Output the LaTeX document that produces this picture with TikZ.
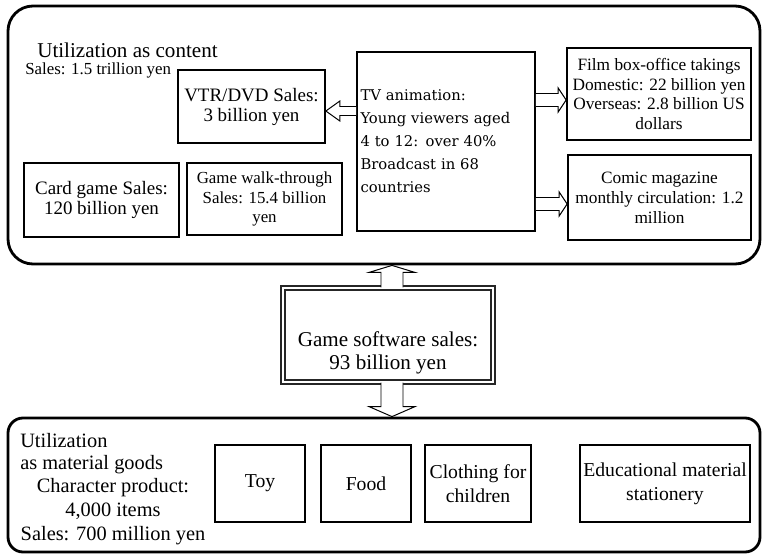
\documentclass[tikz,border=0pt]{standalone}
\usepackage{fontspec}
\setmainfont{Liberation Serif}
\newfontfamily\tvfont{DejaVu Serif}
\usetikzlibrary{calc}

% hollow block arrow: start, tip, half shaft, half head, head length
\newcommand{\blockarrow}[5]{%
  \coordinate (ba-c) at ($(#2)!#5!(#1)$);
  \draw[hollow] ($(#1)!#3!90:(#2)$) -- ($(ba-c)!#3!-90:(#1)$) -- ($(ba-c)!#4!-90:(#1)$)
    -- (#2) -- ($(ba-c)!#4!90:(#1)$) -- ($(ba-c)!#3!90:(#1)$) -- ($(#1)!#3!-90:(#2)$);
}

\begin{document}
\begin{tikzpicture}[
    panel/.style={draw, line width=2pt, rectangle},
    box/.style={draw, line width=1.2pt, rectangle, align=center, inner sep=2pt},
    hollow/.style={draw, line width=0.7pt, fill=white, line join=miter},
    note/.style={anchor=west, inner sep=0pt}
]
    \useasboundingbox (0,0) rectangle (19.05,-13.875);

    % Content panel
    \node[panel, rounded corners=0.625cm, minimum width=18.8cm, minimum height=6.45cm] (content) at (9.6,-3.375) {};
    \node[note, font=\fontsize{15}{17}\selectfont] (conttitle) at (0.925,-1.25) {Utilization as content};
    \node[note, font=\fontsize{12}{14}\selectfont] (contsales) at (0.625,-1.75) {Sales: 1.5 trillion yen};

    % VTR/DVD
    \node[box, minimum width=3.675cm, minimum height=1.825cm, font=\fontsize{13.5}{14.2}\selectfont] (vtr) at (6.2875,-2.6625) {VTR/DVD Sales:\\3 billion yen};

    % TV animation
    \node[box, minimum width=4.45cm, minimum height=4.475cm, text width=4.275cm, align=left, font=\tvfont\fontsize{10.5}{16.4}\selectfont] (tv) at (11.15,-3.5375) {TV animation:\\\makebox[\hsize][s]{Young viewers aged}\\4 to 12: over 40\%\\Broadcast in 68\\countries};

    % Film
    \node[box, minimum width=4.6cm, minimum height=2.3cm, font=\fontsize{12.3}{14.2}\selectfont] (film) at (16.475,-2.35) {Film box-office takings\\Domestic: 22 billion yen\\Overseas: 2.8 billion US\\dollars};

    % Comic
    \node[box, minimum width=4.575cm, minimum height=2.125cm, font=\fontsize{12.3}{14.2}\selectfont] (comic) at (16.4875,-4.9375) {Comic magazine\\monthly circulation: 1.2\\million};

    % Card game
    \node[box, minimum width=3.875cm, minimum height=1.85cm, font=\fontsize{13.5}{14.2}\selectfont] (card) at (2.5375,-5.0) {Card game Sales:\\120 billion yen};

    % Game walk-through
    \node[box, minimum width=3.875cm, minimum height=1.8cm, font=\fontsize{12}{13.7}\selectfont] (walk) at (6.6125,-4.975) {Game walk-through\\Sales: 15.4 billion\\yen};

    % Game software
    \node[draw=black!85, double, double distance=2pt, line width=0.8pt, align=center, minimum width=5.25cm, minimum height=2.35cm, text height=1.85cm, font=\fontsize{15}{16.4}\selectfont] (game) at (9.7,-8.375) {Game software sales:\\93 billion yen};

    % Material goods panel
    \node[panel, rounded corners=0.375cm, minimum width=18.8cm, minimum height=3.35cm] (goods) at (9.6,-12.125) {};
    \node[note, font=\fontsize{14.5}{17}\selectfont] (goodstitle) at (0.5,-11.025) {Utilization};
    \node[note, font=\fontsize{14.5}{17}\selectfont] (goodssub) at (0.5,-11.625) {as material goods};
    \node[align=center, inner sep=0pt, font=\fontsize{14.5}{17}\selectfont] (chara) at (2.825,-12.8) {Character product:\\4,000 items\\Sales: 700 million yen};

    \node[box, minimum width=2.25cm, minimum height=1.925cm, font=\fontsize{14}{17}\selectfont] (toy) at (6.5,-12.0875) {Toy};
    \node[box, minimum width=2.25cm, minimum height=1.925cm, font=\fontsize{14}{17}\selectfont] (food) at (9.15,-12.0875) {Food};
    \node[box, minimum width=2.65cm, minimum height=1.925cm, font=\fontsize{14}{17}\selectfont] (cloth) at (11.95,-12.0875) {Clothing for\\children};
    \node[box, minimum width=4.25cm, minimum height=1.925cm, font=\fontsize{14}{17}\selectfont] (educ) at (16.625,-12.0875) {Educational material\\stationery};

    % Arrows
    \coordinate (f-s) at (tv.east |- 0,-2.5);
    \coordinate (f-t) at (film.west |- f-s);
    \blockarrow{f-s}{f-t}{0.1625cm}{0.3cm}{0.2cm}

    \coordinate (c-s) at (tv.east |- 0,-5.1);
    \coordinate (c-t) at (comic.west |- c-s);
    \blockarrow{c-s}{c-t}{0.1625cm}{0.3cm}{0.2cm}

    \coordinate (v-s) at (tv.west |- 0,-2.775);
    \coordinate (v-t) at (vtr.east |- v-s);
    \blockarrow{v-s}{v-t}{0.1125cm}{0.25cm}{0.35cm}

    \coordinate (u-s) at ([xshift=0.1cm]game.north);
    \coordinate (u-t) at (content.south -| u-s);
    \blockarrow{u-s}{u-t}{0.275cm}{0.575cm}{0.175cm}

    \coordinate (d-s) at ([xshift=0.1cm]game.south);
    \coordinate (d-t) at (goods.north -| d-s);
    \blockarrow{d-s}{d-t}{0.275cm}{0.575cm}{0.25cm}
\end{tikzpicture}
\end{document}
